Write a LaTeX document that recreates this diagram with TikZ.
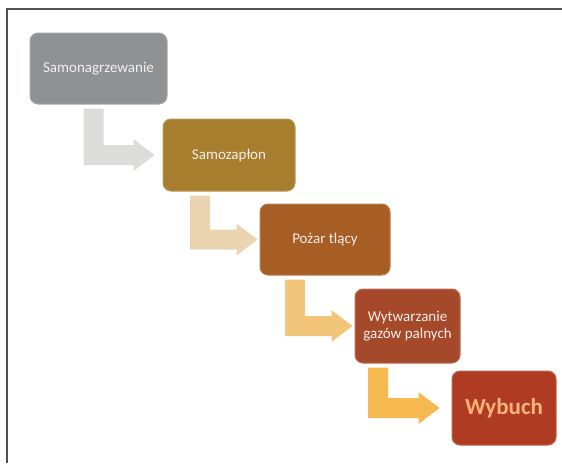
\documentclass[tikz,border=0pt]{standalone}
\usetikzlibrary{calc}
\usepackage{xcolor}
\usepackage{fontspec}
\setmainfont{Carlito}

\definecolor{boxGray}{HTML}{8F9295}
\definecolor{boxGold}{HTML}{A67E2E}
\definecolor{boxBrown}{HTML}{A65E24}
\definecolor{boxRust}{HTML}{A6492A}
\definecolor{boxRed}{HTML}{B03B23}
\definecolor{arrGray}{HTML}{DCDCDB}
\definecolor{arrTan}{HTML}{EAD5B0}
\definecolor{arrSand}{HTML}{F2C67A}
\definecolor{arrAmber}{HTML}{F6BA50}
\definecolor{txtWhite}{HTML}{F3EFEA}
\definecolor{txtPeach}{HTML}{F6B27A}
\definecolor{frameGray}{HTML}{4F4F4F}

% bent arrow: from, to, x of the down bar, gap before the box, colour
\newcommand{\bentarrow}[5]{%
  \fill[#5] let \p1=(#1.south), \p2=(#2.west) in
    (#3pt-10pt,\y1-4pt) -- (#3pt+10pt,\y1-4pt) -- (#3pt+10pt,\y2+10pt)
    -- (\x2-#4pt-21pt,\y2+10pt) -- (\x2-#4pt-21pt,\y2+16pt) -- (\x2-#4pt,\y2)
    -- (\x2-#4pt-21pt,\y2-16pt) -- (\x2-#4pt-21pt,\y2-10pt)
    -- (#3pt-10pt,\y2-10pt) -- cycle;}

\begin{document}
\begin{tikzpicture}[x=1pt,y=1pt,
    stepbox/.style={fill=#1, draw=#1!80!white, line width=1pt, rounded corners=8pt,
      text=txtWhite, align=center, inner sep=0pt, font=\fontsize{15}{17}\selectfont}]
        \useasboundingbox (0,0) rectangle (562,-463);
        \draw[frameGray, line width=1.6pt] (7,-463) -- (7,-9) -- (562,-9);

        \node[stepbox=boxGray, minimum width=137pt, minimum height=71pt] (grzanie) at (98.5,-68.5) {Samonagrzewanie};
        \node[stepbox=boxGold, minimum width=132pt, minimum height=72pt] (zaplon) at (229,-155) {Samozapłon};
        \node[stepbox=boxBrown, minimum width=130pt, minimum height=71pt] (tlenie) at (325,-239.5) {Pożar tlący};
        \node[stepbox=boxRust, minimum width=105pt, minimum height=74pt] (gazy) at (407.5,-326) {Wytwarzanie\\gazów palnych};
        \node[stepbox=boxRed, minimum width=104pt, minimum height=74pt, text=txtPeach,
              font=\bfseries\fontsize{23}{27}\selectfont] (wybuch) at (504,-408) {Wybuch};

        \bentarrow{grzanie}{zaplon}{93.5}{8}{arrGray}
        \bentarrow{zaplon}{tlenie}{200}{2}{arrTan}
        \bentarrow{tlenie}{gazy}{295}{2}{arrSand}
        \bentarrow{gazy}{wybuch}{378}{12}{arrAmber}
\end{tikzpicture}
\end{document}
